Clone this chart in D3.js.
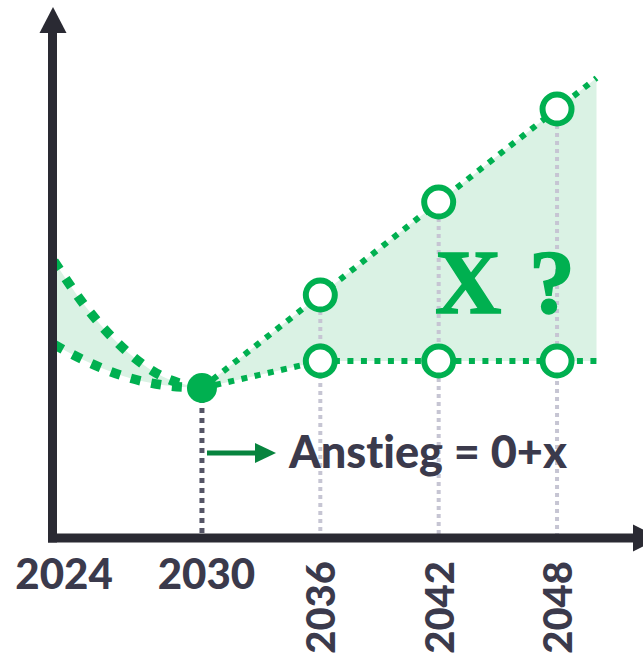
<!DOCTYPE html>
<html>
<head>
<meta charset="utf-8">
<script src="https://cdn.jsdelivr.net/npm/d3@7"></script>
<style>
  html, body { margin: 0; padding: 0; background: #ffffff; overflow: hidden; }
  svg { display: block; }
  text { font-variant-ligatures: none; font-feature-settings: "liga" 0, "clig" 0; }
</style>
</head>
<body>
<svg id="chart" width="643" height="658"></svg>
<script>
// ---- data ----
const yearsLeft  = [2022.5, 2024, 2026, 2028, 2030];
const upperLeft  = [55.4, 46.8, 38.0, 32.3, 30.0];
const lowerLeft  = [38.7, 35.6, 32.4, 30.6, 30.0];
const yearsRight = [2030, 2036, 2042, 2048, 2050];
const upperRight = [30.0, 48.6, 67.2, 85.8, 92.0];
const lowerRight = [30.0, 35.4, 35.4, 35.4, 35.4];
const markerYears = [2036, 2042, 2048];
const pointYear = 2030;
const pointValue = 30.0;
const tickYears = [2024, 2030, 2036, 2042, 2048];
const tickLabels = ["2024", "2030", "2036", "2042", "2048"];
const bigText = "X ?";
const noteText = "Anstieg = 0+x";

// ---- setup ----
const svg = d3.select("#chart");
const x = d3.scaleLinear().domain([2022.5, 2050]).range([54, 596.5]);
const y = d3.scaleLinear().domain([0, 100]).range([538, 38]);

const green = "#00b050";
const fillGreen = "#daf2e4";
const dark = "#2a2a33";
const labelColor = "#3b3a4c";

const left = yearsLeft.map((t, i) => ({t, u: upperLeft[i], l: lowerLeft[i]}));
const right = yearsRight.map((t, i) => ({t, u: upperRight[i], l: lowerRight[i]}));

// fills
svg.append("path")
  .datum(left)
  .attr("fill", fillGreen)
  .attr("d", d3.area().curve(d3.curveMonotoneX)
    .x(d => x(d.t)).y0(d => y(d.l)).y1(d => y(d.u)));
svg.append("path")
  .datum(right)
  .attr("fill", fillGreen)
  .attr("d", d3.area()
    .x(d => x(d.t)).y0(d => y(d.l)).y1(d => y(d.u)));

// vertical gray dotted guides
markerYears.forEach(t => {
  const i = yearsRight.indexOf(t);
  svg.append("line")
    .attr("x1", x(t)).attr("x2", x(t))
    .attr("y1", y(upperRight[i])).attr("y2", y(0))
    .attr("stroke", "#c6c5d3").attr("stroke-width", 4)
    .attr("stroke-dasharray", "4,4");
});
svg.append("line")
  .attr("x1", x(pointYear)).attr("x2", x(pointYear))
  .attr("y1", y(pointValue)).attr("y2", y(0))
  .attr("stroke", "#555566").attr("stroke-width", 5)
  .attr("stroke-dasharray", "5,5");

// lines
const lineLeftU = d3.line().curve(d3.curveMonotoneX).x(d => x(d.t)).y(d => y(d.u));
const lineLeftL = d3.line().curve(d3.curveMonotoneX).x(d => x(d.t)).y(d => y(d.l));
svg.append("path").datum(left).attr("d", lineLeftU)
  .attr("fill", "none").attr("stroke", green).attr("stroke-width", 9.5)
  .attr("stroke-dasharray", "10,11");
svg.append("path").datum(left).attr("d", lineLeftL)
  .attr("fill", "none").attr("stroke", green).attr("stroke-width", 9.5)
  .attr("stroke-dasharray", "10,11");

const lineRU = d3.line().x(d => x(d.t)).y(d => y(d.u));
const lineRL = d3.line().x(d => x(d.t)).y(d => y(d.l));
svg.append("path").datum(right).attr("d", lineRU)
  .attr("fill", "none").attr("stroke", green).attr("stroke-width", 6)
  .attr("stroke-dasharray", "6,7.5");
svg.append("path").datum(right).attr("d", lineRL)
  .attr("fill", "none").attr("stroke", green).attr("stroke-width", 6)
  .attr("stroke-dasharray", "6,7.5");

// markers
const markers = [];
markerYears.forEach(t => {
  const i = yearsRight.indexOf(t);
  markers.push({t, v: upperRight[i]});
  markers.push({t, v: lowerRight[i]});
});
svg.selectAll("circle.m").data(markers).join("circle")
  .attr("class", "m")
  .attr("cx", d => x(d.t)).attr("cy", d => y(d.v))
  .attr("r", 14.5)
  .attr("fill", "#ffffff").attr("stroke", green).attr("stroke-width", 6);

svg.append("circle")
  .attr("cx", x(pointYear)).attr("cy", y(pointValue))
  .attr("r", 15).attr("fill", green);

// big "X ?"
svg.append("text")
  .attr("x", 435).attr("y", 313)
  .attr("font-family", "'Liberation Serif', 'DejaVu Serif', serif")
  .attr("font-weight", "bold")
  .attr("font-size", 92)
  .attr("fill", green)
  .attr("stroke", green).attr("stroke-width", 1.5)
  .attr("textLength", 140)
  .attr("lengthAdjust", "spacing")
  .text(bigText);

// arrow + note
svg.append("line")
  .attr("x1", 207).attr("x2", 257)
  .attr("y1", 453).attr("y2", 453)
  .attr("stroke", "#07843e").attr("stroke-width", 5);
svg.append("path")
  .attr("d", "M255,443 L276,453 L255,463 Z")
  .attr("fill", "#07843e");
svg.append("text")
  .attr("x", 289).attr("y", 468)
  .attr("font-family", "Lato, 'Open Sans', sans-serif")
  .attr("font-weight", 900)
  .attr("font-size", 45)
  .attr("fill", labelColor)
  .attr("textLength", 278)
  .attr("lengthAdjust", "spacingAndGlyphs")
  .text(noteText);

// x axis labels via d3 axis
const axisG = svg.append("g")
  .attr("transform", `translate(0,${y(0)})`)
  .call(d3.axisBottom(x).tickValues(tickYears).tickSize(0)
    .tickFormat((d, i) => tickLabels[i]));
axisG.select(".domain").remove();
axisG.selectAll("text")
  .attr("font-family", "Lato, 'Open Sans', sans-serif")
  .attr("font-weight", 900)
  .attr("fill", labelColor)
  .each(function(d) {
    const t = d3.select(this);
    if (d >= 2036) {
      t.attr("transform", "rotate(-90)")
        .attr("font-size", 40)
        .attr("text-anchor", "end")
        .attr("x", -23).attr("y", 0).attr("dy", "0.36em");
    } else {
      t.attr("font-size", 42)
        .attr("text-anchor", "middle")
        .attr("y", 51).attr("dy", 0)
        .attr("x", d === 2024 ? -20 : 4);
    }
  });

// axis lines with arrow heads
svg.append("line")
  .attr("x1", 52.5).attr("x2", 52.5).attr("y1", 30).attr("y2", 542.5)
  .attr("stroke", dark).attr("stroke-width", 9);
svg.append("path").attr("d", "M53,7 L66.5,33 L39.5,33 Z").attr("fill", dark);
svg.append("line")
  .attr("x1", 48).attr("x2", 636).attr("y1", 538).attr("y2", 538)
  .attr("stroke", dark).attr("stroke-width", 9);
svg.append("path").attr("d", "M633,524.5 L660,538 L633,551.5 Z").attr("fill", dark);
</script>
</body>
</html>
